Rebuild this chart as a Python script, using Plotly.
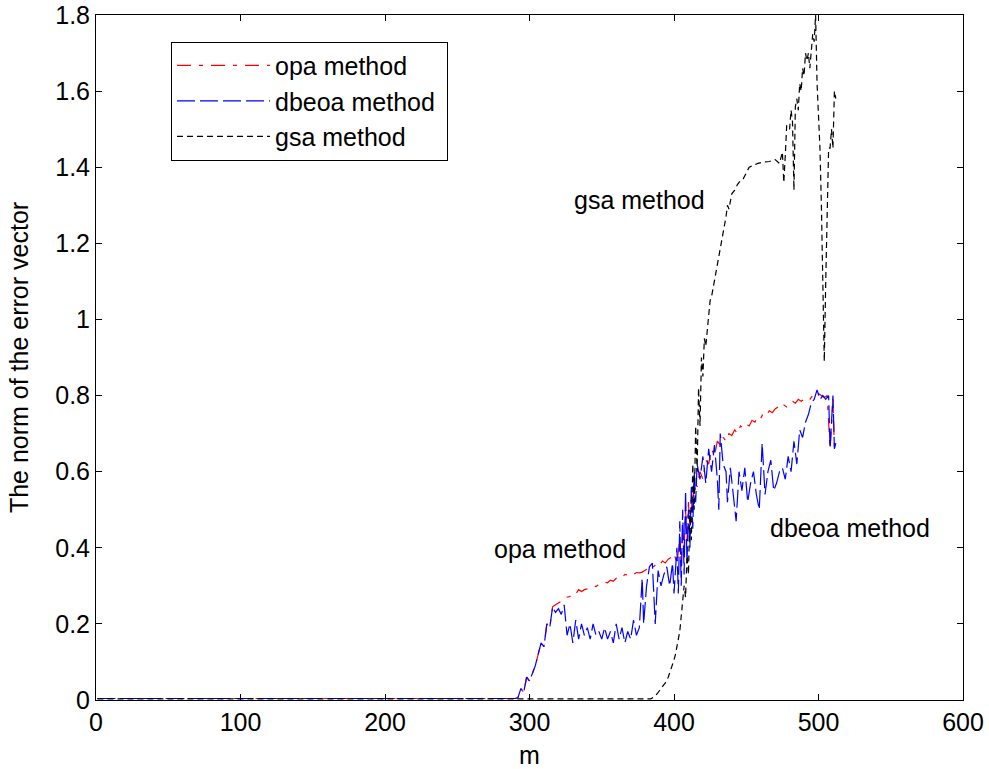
import plotly.graph_objects as go

# ---------------- data ----------------
m_common = [1, 290, 292, 294, 296, 298, 300, 302, 304, 306, 308, 310, 312, 314, 316]
v_common = [0.004, 0.004, 0.006, 0.03, 0.02, 0.06, 0.05, 0.07, 0.09, 0.12, 0.15, 0.14, 0.2, 0.19, 0.245]

dbeoa_m = m_common + [318, 320, 322, 324, 326, 328, 330, 332, 334, 336, 338, 340, 342, 344, 346, 348,
                      350, 352, 354, 356, 358, 360, 362, 364, 366, 368, 370, 372, 374, 376, 378, 379,
                      381, 383, 385, 387, 389, 391, 393, 395, 397, 399, 400, 402, 403, 404, 405, 406,
                      407, 408, 409, 410, 411, 412, 413, 414, 415, 416, 418, 420, 422, 424, 426, 428,
                      430, 431, 432, 434, 436, 437, 439, 441, 443, 445, 447, 449, 451, 453, 455, 457,
                      459, 461, 463, 465, 467, 469, 471, 473, 475, 477, 479, 481, 483, 485, 487, 489,
                      491, 493, 495, 497, 499, 501, 503, 505, 507, 508, 509, 510, 511, 512]
dbeoa_v = v_common + [0.23, 0.24, 0.225, 0.25, 0.17, 0.2, 0.15, 0.21, 0.16, 0.2, 0.17, 0.19, 0.16, 0.2, 0.17, 0.18,
                      0.16, 0.19, 0.16, 0.18, 0.15, 0.2, 0.16, 0.19, 0.15, 0.18, 0.16, 0.21, 0.17, 0.19, 0.32, 0.2,
                      0.3, 0.35, 0.36, 0.2, 0.34, 0.3, 0.33, 0.35, 0.3, 0.36, 0.28, 0.4, 0.28, 0.47, 0.3, 0.5,
                      0.33, 0.55, 0.36, 0.5, 0.4, 0.56, 0.45, 0.6, 0.52, 0.62, 0.58, 0.64, 0.57, 0.66, 0.6, 0.67,
                      0.58, 0.5, 0.7, 0.62, 0.6, 0.52, 0.61, 0.54, 0.47, 0.6, 0.55, 0.61, 0.52, 0.57, 0.6, 0.54,
                      0.5, 0.675, 0.54, 0.6, 0.63, 0.55, 0.57, 0.6, 0.61, 0.58, 0.64, 0.6, 0.68, 0.62, 0.71, 0.69,
                      0.73, 0.75, 0.78, 0.79, 0.815, 0.79, 0.8, 0.79, 0.8, 0.66, 0.72, 0.8, 0.66, 0.675]

opa_m = m_common + [318, 320, 322, 324, 326, 328, 330, 332, 334, 336, 338, 340, 342, 344, 346, 348,
                    350, 352, 354, 356, 358, 360, 362, 364, 366, 368, 370, 372, 374, 376, 378, 380,
                    382, 384, 386, 388, 390, 392, 394, 396, 398, 400, 402, 404, 405, 406, 407, 408,
                    409, 410, 411, 412, 413, 414, 416, 418, 420, 422, 424, 426, 428, 430, 432, 434,
                    436, 438, 440, 442, 444, 446, 448, 450, 452, 454, 456, 458, 460, 462, 464, 466,
                    468, 470, 472, 474, 476, 478, 480, 482, 484, 486, 488, 490, 492, 494, 496, 498,
                    500, 502, 504, 506, 508, 509, 510, 511, 512]
opa_v = v_common + [0.25, 0.255, 0.26, 0.262, 0.27, 0.272, 0.28, 0.278, 0.29, 0.285, 0.29, 0.292, 0.295, 0.3, 0.298, 0.303,
                    0.305, 0.31, 0.308, 0.315, 0.312, 0.32, 0.324, 0.322, 0.33, 0.328, 0.332, 0.33, 0.335, 0.334, 0.336, 0.34,
                    0.345, 0.355, 0.35, 0.36, 0.355, 0.365, 0.36, 0.37, 0.375, 0.385, 0.36, 0.42, 0.35, 0.45, 0.4, 0.5,
                    0.42, 0.52, 0.45, 0.55, 0.5, 0.58, 0.56, 0.6, 0.58, 0.63, 0.62, 0.66, 0.64, 0.68, 0.67, 0.69,
                    0.68, 0.7, 0.695, 0.71, 0.7, 0.72, 0.715, 0.725, 0.72, 0.735, 0.73, 0.745, 0.74, 0.755, 0.75, 0.76,
                    0.755, 0.765, 0.77, 0.765, 0.775, 0.77, 0.78, 0.785, 0.78, 0.79, 0.785, 0.79, 0.795, 0.79, 0.8, 0.795,
                    0.805, 0.8, 0.795, 0.8, 0.66, 0.72, 0.79, 0.66, 0.675]

gsa_m = [1, 384, 386, 388, 390, 392, 394, 396, 398, 400, 401, 402, 403, 404, 405, 406, 407, 408, 409, 410,
         411, 412, 413, 414, 415, 416, 417, 418, 419, 420, 421, 422, 424, 425, 426, 428, 430, 432, 434, 436,
         437, 438, 440, 442, 444, 446, 448, 450, 452, 455, 458, 462, 466, 470, 473, 475, 476, 477, 478, 480,
         481, 482, 483, 484, 485, 486, 487, 488, 489, 490, 491, 492, 493, 494, 495, 496, 497, 498, 499, 500,
         501, 502, 503, 504, 505, 506, 507, 508, 509, 510, 511, 512]
gsa_v = [0.003, 0.003, 0.008, 0.015, 0.025, 0.035, 0.045, 0.06, 0.08, 0.105, 0.12, 0.14, 0.16, 0.18, 0.22, 0.26, 0.3, 0.27, 0.38, 0.33,
         0.5, 0.42, 0.62, 0.5, 0.72, 0.6, 0.82, 0.72, 0.9, 0.85, 0.95, 0.93, 1.0, 1.05, 1.06, 1.1, 1.15, 1.18, 1.22, 1.27,
         1.3, 1.29, 1.33, 1.34, 1.355, 1.365, 1.37, 1.385, 1.4, 1.405, 1.41, 1.414, 1.415, 1.42, 1.41, 1.44, 1.36, 1.43, 1.51, 1.5,
         1.55, 1.52, 1.34, 1.56, 1.58, 1.55, 1.62, 1.6, 1.66, 1.64, 1.7, 1.68, 1.7, 1.66, 1.72, 1.75, 1.73, 1.8, 1.62, 1.55,
         1.45, 1.3, 1.1, 0.89, 1.1, 1.3, 1.45, 1.45, 1.5, 1.45, 1.6, 1.58]

x_ticks = [0, 100, 200, 300, 400, 500, 600]
y_ticks = [0, 0.2, 0.4, 0.6, 0.8, 1.0, 1.2, 1.4, 1.6, 1.8]
y_tick_labels = ["0", "0.2", "0.4", "0.6", "0.8", "1", "1.2", "1.4", "1.6", "1.8"]

labels = ["gsa method", "opa method", "dbeoa method"]
label_m = [376, 321, 522]
label_v = [1.314, 0.397, 0.452]

legend_names = ["opa method\u00a0", "dbeoa method\u00a0", "gsa method\u00a0"]

FONT = "Liberation Sans, Arial, sans-serif"

fig = go.Figure()
fig.add_trace(go.Scatter(x=opa_m, y=opa_v, mode="lines", name=legend_names[0],
                         line=dict(color="#ff0000", width=1.2, dash="14px,8px,4px,8px")))
fig.add_trace(go.Scatter(x=dbeoa_m, y=dbeoa_v, mode="lines", name=legend_names[1],
                         line=dict(color="#0000ff", width=1.2, dash="18px,5px")))
fig.add_trace(go.Scatter(x=gsa_m, y=gsa_v, mode="lines", name=legend_names[2],
                         line=dict(color="#000000", width=1.2, dash="6px,4px")))

for t, xm, yv in zip(labels, label_m, label_v):
    fig.add_annotation(x=xm, y=yv, text=t, showarrow=False, xref="x", yref="y",
                       font=dict(family=FONT, size=25, color="black"))

axis_common = dict(showline=True, linecolor="black", linewidth=1, mirror="ticks",
                   ticks="inside", ticklen=6, tickcolor="black", showgrid=False, zeroline=False,
                   automargin=False, ticklabeloverflow="allow",
                   tickfont=dict(family=FONT, size=25, color="black"))

fig.update_layout(
    width=989, height=769,
    margin=dict(l=96, r=26, t=15, b=69),
    paper_bgcolor="white", plot_bgcolor="white",
    font=dict(family=FONT, size=25, color="black"),
    xaxis=dict(range=[0, 600], tickvals=x_ticks, title=dict(text="m", font=dict(family=FONT, size=25), standoff=11),
               **axis_common),
    yaxis=dict(range=[0, 1.8], tickvals=y_ticks, ticktext=y_tick_labels,
               title=dict(text="The norm of the error vector", font=dict(family=FONT, size=25), standoff=19),
               **axis_common),
    legend=dict(x=0.0865, y=0.961, xanchor="left", yanchor="top", bordercolor="black", borderwidth=1,
                bgcolor="white", font=dict(family=FONT, size=25), itemwidth=93, tracegroupgap=0),
    showlegend=True,
)

fig.write_html("out.html", config={"displayModeBar": False},
               post_script="document.body.style.margin='0px';")
